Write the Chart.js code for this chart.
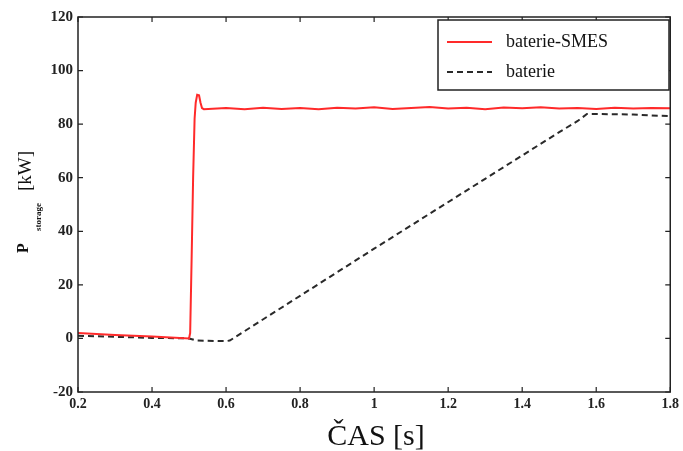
<!DOCTYPE html>
<html>
<head>
<meta charset="utf-8">
<script src="https://cdn.jsdelivr.net/npm/chart.js@4.4.1/dist/chart.umd.min.js"></script>
<style>
  html, body { margin: 0; padding: 0; background: #fff; }
</style>
</head>
<body>
<canvas id="c" width="683" height="451"></canvas>
<script>
// time [s]
const smesTime = [0.2, 0.3, 0.4, 0.5, 0.503, 0.507, 0.511, 0.515, 0.518, 0.522, 0.527, 0.531, 0.535, 0.54,
  0.6, 0.65, 0.7, 0.75, 0.8, 0.85, 0.9, 0.95, 1.0, 1.05, 1.1, 1.15, 1.2, 1.25, 1.3, 1.35, 1.4, 1.45,
  1.5, 1.55, 1.6, 1.65, 1.7, 1.75, 1.8];
const smesPower = [2, 1.3, 0.7, 0, 2, 30, 60, 82, 88, 91, 90.8, 88, 86, 85.6,
  86.0, 85.6, 86.1, 85.7, 86.0, 85.6, 86.1, 85.8, 86.3, 85.7, 86.0, 86.4, 85.8, 86.1, 85.6, 86.2, 85.9, 86.3,
  85.8, 86.0, 85.7, 86.1, 85.8, 86.0, 85.9];

const batTime = [0.2, 0.3, 0.4, 0.5, 0.52, 0.6, 0.61, 1.0, 1.3, 1.5, 1.55, 1.575, 1.6, 1.7, 1.75, 1.8];
const batPower = [1, 0.6, 0.2, 0, -0.8, -1, -0.8, 33.5, 59.6, 77, 81.2, 83.8, 83.8, 83.6, 83.2, 83];

const xTicks = [0.2, 0.4, 0.6, 0.8, 1, 1.2, 1.4, 1.6, 1.8];
const yTicks = [-20, 0, 20, 40, 60, 80, 100, 120];
const seriesNames = ["baterie-SMES", "baterie"];

const toPoints = (xs, ys) => xs.map((x, i) => ({ x: x, y: ys[i] }));

const frame = {
  id: "frame",
  afterDraw(chart) {
    const ctx = chart.ctx;
    const a = chart.chartArea;
    const xs = chart.scales.x, ys = chart.scales.y;
    ctx.save();
    ctx.strokeStyle = "#222";
    ctx.lineWidth = 1.5;
    ctx.strokeRect(a.left, a.top, a.right - a.left, a.bottom - a.top);
    ctx.lineWidth = 1.2;
    ctx.beginPath();
    xTicks.forEach(v => {
      const p = xs.getPixelForValue(v);
      ctx.moveTo(p, a.bottom); ctx.lineTo(p, a.bottom - 5);
      ctx.moveTo(p, a.top); ctx.lineTo(p, a.top + 5);
    });
    yTicks.forEach(v => {
      const p = ys.getPixelForValue(v);
      ctx.moveTo(a.left, p); ctx.lineTo(a.left + 5, p);
      ctx.moveTo(a.right, p); ctx.lineTo(a.right - 5, p);
    });
    ctx.stroke();

    // legend box
    const lx = 438, ly = 20, lw = 231, lh = 70;
    ctx.fillStyle = "#fff";
    ctx.fillRect(lx, ly, lw, lh);
    ctx.strokeStyle = "#222";
    ctx.lineWidth = 1.5;
    ctx.strokeRect(lx, ly, lw, lh);
    chart.data.datasets.forEach((ds, i) => {
      const y = 42 + i * 30;
      ctx.strokeStyle = ds.borderColor;
      ctx.lineWidth = 2;
      ctx.setLineDash(ds.borderDash || []);
      ctx.beginPath();
      ctx.moveTo(447, y); ctx.lineTo(492, y);
      ctx.stroke();
      ctx.setLineDash([]);
      ctx.fillStyle = "#111";
      ctx.font = "18px 'Liberation Serif'";
      ctx.textBaseline = "middle";
      ctx.fillText(ds.label, 506, y);
    });

    // axis titles
    ctx.fillStyle = "#111";
    ctx.textBaseline = "alphabetic";
    ctx.textAlign = "center";
    ctx.font = "30px 'Liberation Serif'";
    ctx.fillText("ČAS [s]", 376, 445);

    ctx.translate(28, 253);
    ctx.rotate(-Math.PI / 2);
    ctx.textAlign = "left";
    ctx.font = "bold 16px 'Liberation Serif'";
    ctx.fillText("P", 0, 0);
    ctx.font = "bold 9px 'Liberation Serif'";
    ctx.fillText("storage", 22, 13);
    ctx.font = "19px 'Liberation Serif'";
    ctx.fillText("[kW]", 62, 3);
    ctx.restore();
  }
};

new Chart(document.getElementById("c"), {
  type: "line",
  data: {
    datasets: [
      {
        label: seriesNames[0],
        data: toPoints(smesTime, smesPower),
        borderColor: "#ff2a2a",
        borderWidth: 2,
        pointRadius: 0,
        tension: 0,
        fill: false,
      },
      {
        label: seriesNames[1],
        data: toPoints(batTime, batPower),
        borderColor: "#2a2a2a",
        borderWidth: 2,
        borderDash: [6, 4],
        pointRadius: 0,
        tension: 0,
        fill: false,
      },
    ],
  },
  options: {
    responsive: false,
    animation: false,
    layout: { padding: { top: 17, right: 11, left: 0, bottom: 0 } },
    plugins: { legend: { display: false }, tooltip: { enabled: false } },
    scales: {
      x: {
        type: "linear",
        min: 0.2,
        max: 1.8,
        afterBuildTicks: s => { s.ticks = xTicks.map(v => ({ value: v })); },
        afterFit: s => { s.height = 59; },
        grid: { display: false, drawTicks: false },
        border: { display: false },
        ticks: {
          padding: 4,
          color: "#222",
          font: { family: "'Liberation Serif'", weight: "bold", size: 14 },
          callback: v => String(v),
        },
      },
      y: {
        min: -20,
        max: 120,
        afterBuildTicks: s => { s.ticks = yTicks.map(v => ({ value: v })); },
        afterFit: s => { s.width = 78; },
        grid: { display: false, drawTicks: false },
        border: { display: false },
        ticks: {
          padding: 5,
          color: "#222",
          font: { family: "'Liberation Serif'", weight: "bold", size: 15 },
        },
      },
    },
  },
  plugins: [frame],
});
</script>
</body>
</html>
